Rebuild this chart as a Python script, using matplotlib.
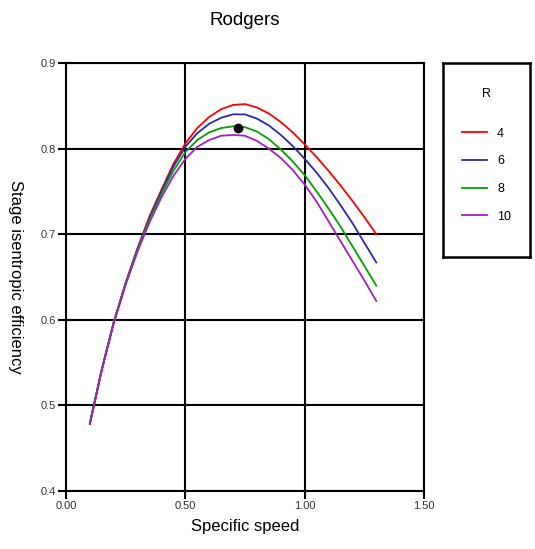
import matplotlib
matplotlib.use("Agg")
import matplotlib.pyplot as plt
from matplotlib.lines import Line2D

plt.rcParams['font.family'] = ['Liberation Sans', 'DejaVu Sans']

speed = [0.10, 0.15, 0.20, 0.25, 0.30, 0.35, 0.40, 0.45, 0.50, 0.55, 0.60, 0.65, 0.70,
         0.75, 0.80, 0.85, 0.90, 0.95, 1.00, 1.05, 1.10, 1.15, 1.20, 1.25, 1.30]
eff_R4 = [0.479, 0.542, 0.597, 0.643, 0.684, 0.721, 0.752, 0.782, 0.806, 0.824, 0.837, 0.846, 0.851,
          0.852, 0.848, 0.841, 0.831, 0.819, 0.805, 0.790, 0.774, 0.757, 0.739, 0.720, 0.700]
eff_R6 = [0.479, 0.542, 0.597, 0.643, 0.683, 0.719, 0.750, 0.779, 0.802, 0.818, 0.829, 0.836, 0.840,
          0.840, 0.835, 0.827, 0.816, 0.803, 0.788, 0.772, 0.754, 0.734, 0.713, 0.690, 0.667]
eff_R8 = [0.479, 0.542, 0.597, 0.642, 0.682, 0.717, 0.747, 0.774, 0.796, 0.810, 0.819, 0.824, 0.826,
          0.825, 0.820, 0.811, 0.799, 0.785, 0.769, 0.750, 0.730, 0.709, 0.686, 0.663, 0.640]
eff_R10 = [0.478, 0.541, 0.596, 0.641, 0.680, 0.714, 0.743, 0.768, 0.788, 0.802, 0.810, 0.815, 0.816,
           0.815, 0.809, 0.800, 0.789, 0.775, 0.758, 0.738, 0.715, 0.692, 0.669, 0.646, 0.622]
labels = ['4', '6', '8', '10']
colors = ['#ff0000', '#2a2aa8', '#00a000', '#a020c0']
marker_pt = (0.72, 0.824)

xticks = [0.0, 0.5, 1.0, 1.5]
xticklabels = ['0.00', '0.50', '1.00', '1.50']
yticks = [0.4, 0.5, 0.6, 0.7, 0.8, 0.9]
yticklabels = ['0.4', '0.5', '0.6', '0.7', '0.8', '0.9']

fig = plt.figure(figsize=(5.35, 5.49), dpi=100)
ax = fig.add_axes([66/535, 1-491/549, (424-66)/535, (491-63)/549])

for ys, c in zip([eff_R4, eff_R6, eff_R8, eff_R10], colors):
    ax.plot(speed, ys, color=c, lw=1.3, zorder=3)
ax.plot([marker_pt[0]], [marker_pt[1]], 'o', color='black', ms=6, zorder=4)

ax.set_xlim(0, 1.5)
ax.set_ylim(0.4, 0.9)
ax.set_xticks(xticks)
ax.set_xticklabels(xticklabels)
ax.set_yticks(yticks)
ax.set_yticklabels(yticklabels)
ax.grid(True, color='black', lw=1.5, zorder=1)
for s in ax.spines.values():
    s.set_linewidth(1.5)
    s.set_color('black')
ax.tick_params(axis='both', length=6, width=1.5, color='black', labelsize=8,
               labelcolor='#333333', pad=1)
ax.set_xlabel('Specific speed', fontsize=12, labelpad=6)
ax.set_ylabel('Stage isentropic efficiency', fontsize=12, rotation=270, labelpad=24)
ax.set_title('Rodgers', fontsize=13.5, pad=27)

lax = fig.add_axes([443/535, 1-257/549, (530-443)/535, (257-63)/549])
lax.set_xticks([]); lax.set_yticks([])
for s in lax.spines.values():
    s.set_linewidth(1.8)
    s.set_color('black')
handles = [Line2D([0], [0], color=c, lw=1.3) for c in colors]
leg = lax.legend(handles, labels, title='R', loc='upper center', frameon=False,
                 fontsize=9, title_fontsize=9, handlelength=2.0, labelspacing=1.25,
                 borderaxespad=1.6)
leg._legend_box.sep = 20

fig.savefig('out.png', dpi=100)
